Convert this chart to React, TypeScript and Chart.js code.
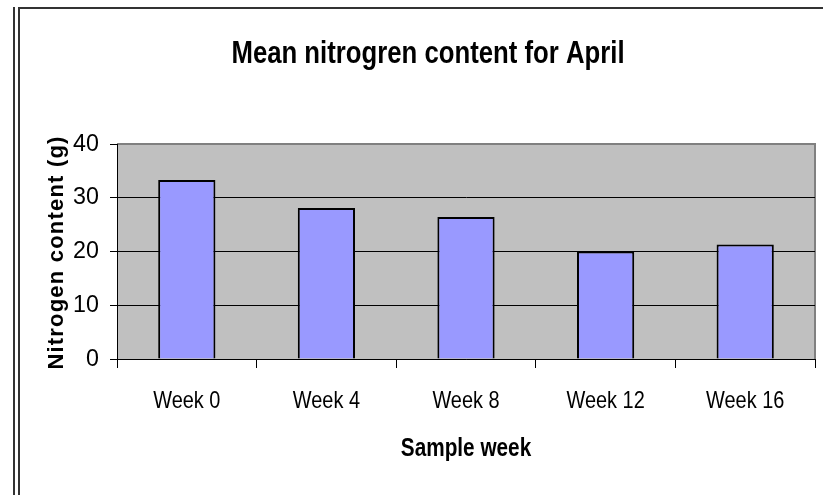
import React, { useEffect, useRef } from "react";
import { Chart, registerables } from "chart.js";

Chart.register(...registerables);

const TITLE = "Mean nitrogren content for April";
const X_TITLE = "Sample week";
const Y_TITLE = "Nitrogen content (g)";
const categories = ["Week 0", "Week 4", "Week 8", "Week 12", "Week 16"];
const nitrogen = [33.3, 28.1, 26.4, 20.0, 21.3];
const yTicks = [0, 10, 20, 30, 40];

const FONT = "'Liberation Sans', Arial, sans-serif";
const SX = 0.83; // horizontal condensing of word text, as in the reference

const plotDecor = {
  id: "plotDecor",
  beforeDraw(chart: any) {
    const ctx = chart.ctx as any;
    if (!ctx.__origFillText) {
      const orig = ctx.fillText.bind(ctx);
      ctx.__origFillText = orig;
      ctx.fillText = (t: string, x: number, y: number) => {
        const numeric = /^[0-9.\-]+$/.test(String(t));
        ctx.save();
        ctx.translate(x, y);
        ctx.scale(numeric ? 0.97 : SX, 1);
        orig(t, 0, 0);
        ctx.restore();
      };
    }
    const { left, right, top, bottom } = chart.chartArea;
    ctx.save();
    ctx.fillStyle = "#c0c0c0";
    ctx.fillRect(left, top, right - left, bottom - top);
    ctx.strokeStyle = "#808080";
    ctx.lineWidth = 2;
    ctx.beginPath();
    ctx.moveTo(left, top);
    ctx.lineTo(right, top);
    ctx.lineTo(right, bottom);
    ctx.stroke();
    ctx.restore();
  },
  afterDraw(chart: any) {
    const ctx = chart.ctx as any;
    const { chartArea } = chart;
    ctx.save();
    ctx.translate(57, (chartArea.top + chartArea.bottom) / 2 + 1);
    ctx.rotate(-Math.PI / 2);
    ctx.font = "bold 22px " + FONT;
    ctx.letterSpacing = "1.2px";
    ctx.fillStyle = "#000";
    ctx.textAlign = "center";
    ctx.textBaseline = "middle";
    (ctx.__origFillText || ctx.fillText.bind(ctx))(Y_TITLE, 0, 0);
    ctx.restore();
  },
};

export default function App() {
  const ref = useRef<HTMLCanvasElement | null>(null);
  useEffect(() => {
    if (!ref.current) return;
    const chart = new Chart(ref.current, {
      type: "bar",
      data: {
        labels: categories,
        datasets: [
          {
            data: nitrogen,
            backgroundColor: "#9999ff",
            borderColor: "#000000",
            borderWidth: 2,
            categoryPercentage: 1,
            barPercentage: 0.41,
          },
        ],
      },
      options: {
        responsive: false,
        animation: false,
        layout: { padding: { left: 41, right: 8, top: 0, bottom: 0 } },
        plugins: {
          legend: { display: false },
          tooltip: { enabled: false },
          title: {
            display: true,
            text: TITLE,
            color: "#000",
            font: { family: FONT, size: 31, weight: "bold", lineHeight: 1.2 },
            padding: { top: 35.4, bottom: 71.4 },
          },
        },
        scales: {
          x: {
            grid: {
              offset: true,
              drawOnChartArea: false,
              tickLength: 9,
              tickColor: "#000",
              tickWidth: 1,
            },
            border: { color: "#000", width: 1 },
            ticks: {
              color: "#000",
              padding: 18.6,
              font: { family: FONT, size: 24, lineHeight: 1.2 },
              maxRotation: 0,
              autoSkip: false,
            },
            title: {
              display: true,
              text: X_TITLE,
              color: "#000",
              font: { family: FONT, size: 25, weight: "bold", lineHeight: 1.2 },
              padding: { top: 0, bottom: 31 },
            },
            afterFit(scale: any) {
              scale.height = 495 - 359;
            },
          },
          y: {
            min: 0,
            max: 40,
            afterBuildTicks(scale: any) {
              scale.ticks = yTicks.map((v) => ({ value: v }));
            },
            grid: {
              color: (c: any) => (c.tick && c.tick.value === 40 ? "#808080" : "#000"),
              lineWidth: 1,
              tickLength: 7,
              tickColor: "#000",
            },
            border: { color: "#000", width: 1 },
            ticks: {
              color: "#000",
              padding: 11,
              font: { family: FONT, size: 24, lineHeight: 1.2 },
            },
            afterFit(scale: any) {
              scale.width = 117 - 41;
            },
          },
        },
      },
      plugins: [plotDecor],
    } as any);
    return () => chart.destroy();
  }, []);

  const line = (s: React.CSSProperties) => (
    <div style={{ position: "absolute", background: "#333", ...s }} />
  );

  return (
    <div style={{ position: "absolute", left: 0, top: 0, width: 823, height: 495, background: "#fff", overflow: "hidden" }}>
      <canvas ref={ref} width={823} height={495} style={{ position: "absolute", left: 0, top: 0 }} />
      {line({ left: 13, top: 7, width: 2, height: 488 })}
      {line({ left: 18, top: 7, width: 2, height: 488 })}
      {line({ left: 18, top: 7, width: 805, height: 2 })}
    </div>
  );
}
